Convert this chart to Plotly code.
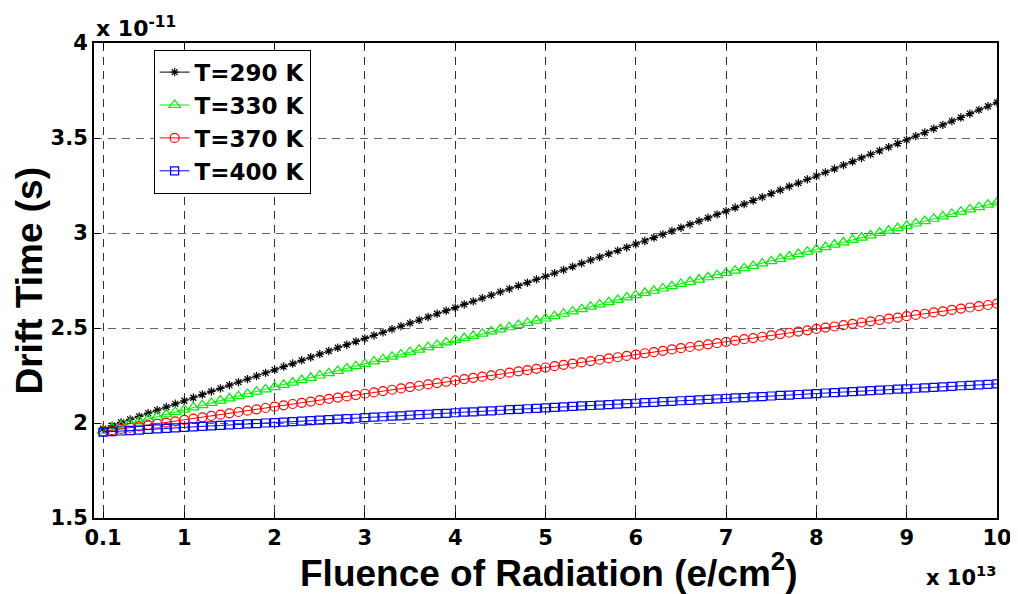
import plotly.graph_objects as go

# Fluence (x 1e13 e/cm^2), sampled every 0.1 from 0.1 to 10.0
fluence = [round(0.1 * i, 1) for i in range(1, 101)]

# Drift time (x 1e-11 s)
t290 = [1.970, 1.986, 2.003, 2.019, 2.035, 2.052, 2.068, 2.084, 2.101, 2.117,
        2.133, 2.150, 2.166, 2.182, 2.199, 2.215, 2.231, 2.247, 2.264, 2.280,
        2.297, 2.313, 2.330, 2.346, 2.363, 2.379, 2.396, 2.412, 2.429, 2.445,
        2.461, 2.477, 2.494, 2.510, 2.526, 2.542, 2.558, 2.575, 2.591, 2.607,
        2.624, 2.640, 2.657, 2.673, 2.690, 2.706, 2.723, 2.739, 2.756, 2.772,
        2.789, 2.806, 2.823, 2.840, 2.857, 2.873, 2.890, 2.907, 2.924, 2.941,
        2.958, 2.976, 2.993, 3.011, 3.028, 3.045, 3.063, 3.080, 3.098, 3.115,
        3.134, 3.152, 3.171, 3.189, 3.208, 3.226, 3.245, 3.263, 3.282, 3.300,
        3.319, 3.338, 3.357, 3.376, 3.395, 3.414, 3.433, 3.452, 3.471, 3.490,
        3.510, 3.529, 3.549, 3.569, 3.589, 3.608, 3.628, 3.648, 3.667, 3.687]

t330 = [1.960, 1.972, 1.984, 1.997, 2.009, 2.021, 2.033, 2.046, 2.058, 2.070,
        2.082, 2.094, 2.106, 2.118, 2.130, 2.141, 2.153, 2.165, 2.177, 2.189,
        2.201, 2.213, 2.226, 2.238, 2.250, 2.262, 2.274, 2.287, 2.299, 2.311,
        2.324, 2.336, 2.349, 2.361, 2.374, 2.386, 2.399, 2.411, 2.424, 2.436,
        2.447, 2.459, 2.470, 2.482, 2.493, 2.504, 2.516, 2.527, 2.539, 2.550,
        2.562, 2.575, 2.587, 2.599, 2.612, 2.624, 2.636, 2.648, 2.661, 2.673,
        2.685, 2.696, 2.708, 2.720, 2.732, 2.743, 2.755, 2.767, 2.778, 2.790,
        2.802, 2.815, 2.827, 2.840, 2.852, 2.864, 2.877, 2.889, 2.902, 2.914,
        2.926, 2.939, 2.951, 2.964, 2.976, 2.988, 3.001, 3.013, 3.026, 3.038,
        3.050, 3.063, 3.075, 3.087, 3.100, 3.112, 3.124, 3.136, 3.149, 3.161]

t370 = [1.955, 1.962, 1.969, 1.975, 1.982, 1.989, 1.996, 2.002, 2.009, 2.016,
        2.023, 2.030, 2.037, 2.044, 2.051, 2.058, 2.065, 2.072, 2.079, 2.086,
        2.093, 2.100, 2.106, 2.113, 2.120, 2.127, 2.134, 2.140, 2.147, 2.154,
        2.161, 2.168, 2.175, 2.182, 2.189, 2.196, 2.203, 2.210, 2.217, 2.224,
        2.231, 2.238, 2.244, 2.251, 2.258, 2.265, 2.272, 2.278, 2.285, 2.292,
        2.299, 2.306, 2.312, 2.319, 2.326, 2.333, 2.340, 2.346, 2.353, 2.360,
        2.367, 2.373, 2.380, 2.387, 2.394, 2.400, 2.407, 2.414, 2.420, 2.427,
        2.434, 2.441, 2.447, 2.454, 2.461, 2.468, 2.475, 2.481, 2.488, 2.495,
        2.502, 2.508, 2.515, 2.522, 2.529, 2.535, 2.542, 2.549, 2.555, 2.562,
        2.569, 2.575, 2.582, 2.588, 2.595, 2.602, 2.608, 2.615, 2.621, 2.628]

t400 = [1.952, 1.955, 1.958, 1.960, 1.963, 1.966, 1.969, 1.972, 1.974, 1.977,
        1.980, 1.982, 1.985, 1.987, 1.990, 1.992, 1.995, 1.997, 2.000, 2.002,
        2.005, 2.007, 2.010, 2.012, 2.015, 2.018, 2.020, 2.023, 2.025, 2.028,
        2.031, 2.033, 2.036, 2.038, 2.041, 2.044, 2.046, 2.049, 2.051, 2.054,
        2.057, 2.059, 2.062, 2.064, 2.067, 2.070, 2.072, 2.075, 2.077, 2.080,
        2.082, 2.085, 2.087, 2.090, 2.092, 2.094, 2.097, 2.099, 2.102, 2.104,
        2.107, 2.109, 2.112, 2.114, 2.117, 2.119, 2.122, 2.124, 2.127, 2.129,
        2.132, 2.134, 2.137, 2.139, 2.142, 2.145, 2.147, 2.150, 2.152, 2.155,
        2.158, 2.160, 2.163, 2.165, 2.168, 2.170, 2.173, 2.175, 2.178, 2.180,
        2.183, 2.185, 2.188, 2.190, 2.193, 2.196, 2.198, 2.201, 2.203, 2.206]

series_names = ["T=290 K", "T=330 K", "T=370 K", "T=400 K"]
x_tickvals = [0.1, 1, 2, 3, 4, 5, 6, 7, 8, 9, 10]
x_ticktext = ["0.1", "1", "2", "3", "4", "5", "6", "7", "8", "9", "10"]
y_tickvals = [1.5, 2, 2.5, 3, 3.5, 4]
y_ticktext = ["1.5", "2", "2.5", "3", "3.5", "4"]

styles = [
    dict(color="black", symbol="asterisk-open", size=7),
    dict(color="#00ee00", symbol="triangle-up-open", size=10),
    dict(color="red", symbol="circle-open", size=9),
    dict(color="blue", symbol="square-open", size=8),
]

fig = go.Figure()
for name, vals, st in zip(series_names, [t290, t330, t370, t400], styles):
    fig.add_trace(go.Scatter(
        x=fluence, y=vals, name=name, mode="lines+markers",
        line=dict(color=st["color"], width=1),
        marker=dict(symbol=st["symbol"], size=st["size"], color=st["color"],
                    line=dict(color=st["color"], width=1.2)),
    ))

tick_font = dict(family="DejaVu Sans", size=21, color="black", weight="bold")

# the page body adds an 8px offset, so the figure is 8px smaller on each axis
fig.update_layout(
    width=1010, height=586,
    margin=dict(l=86, r=21, t=35, b=76, autoexpand=False),
    paper_bgcolor="white", plot_bgcolor="white",
    showlegend=True,
    legend=dict(
        x=0.066, y=0.986, xanchor="left", yanchor="top",
        bgcolor="white", bordercolor="black", borderwidth=1,
        font=dict(family="DejaVu Sans", size=23, color="black", weight="bold"),
        tracegroupgap=0, itemwidth=30,
    ),
    xaxis=dict(
        range=[0, 10], tickvals=x_tickvals, ticktext=x_ticktext,
        tickfont=tick_font, ticks="inside", ticklen=6, tickcolor="black",
        showline=True, linecolor="black", linewidth=2, mirror="ticks",
        showgrid=True, gridcolor="#333333", gridwidth=1, griddash="8px,6px",
        zeroline=False,
    ),
    yaxis=dict(
        range=[1.5, 4], tickvals=y_tickvals, ticktext=y_ticktext,
        tickfont=tick_font, ticks="inside", ticklen=6, tickcolor="black",
        showline=True, linecolor="black", linewidth=2, mirror="ticks",
        showgrid=True, gridcolor="#666666", gridwidth=1, griddash="8px,6px",
        zeroline=False,
    ),
    annotations=[
        dict(text="Drift Time (s)", xref="paper", yref="paper", x=0, y=0.5,
             xanchor="center", yanchor="middle", xshift=-65, textangle=-90,
             showarrow=False,
             font=dict(family="Liberation Sans", size=37, color="black", weight="bold")),
        dict(text="Fluence of Radiation (e/cm<sup>2</sup>)", xref="paper", yref="paper",
             x=0.504, y=0, xanchor="center", yanchor="middle", yshift=-52,
             showarrow=False,
             font=dict(family="Liberation Sans", size=37, color="black", weight="bold")),
        dict(text="x 10<sup>-11</sup>", xref="paper", yref="paper", x=0, y=1,
             xanchor="left", yanchor="bottom", xshift=0, yshift=0, showarrow=False,
             font=dict(family="DejaVu Sans", size=22, color="black", weight="bold")),
        dict(text="x 10<sup>13</sup>", xref="paper", yref="paper", x=1, y=0,
             xanchor="right", yanchor="top", xshift=2, yshift=-42, showarrow=False,
             font=dict(family="DejaVu Sans", size=21, color="black", weight="bold")),
    ],
)

fig.write_html("out.html")
